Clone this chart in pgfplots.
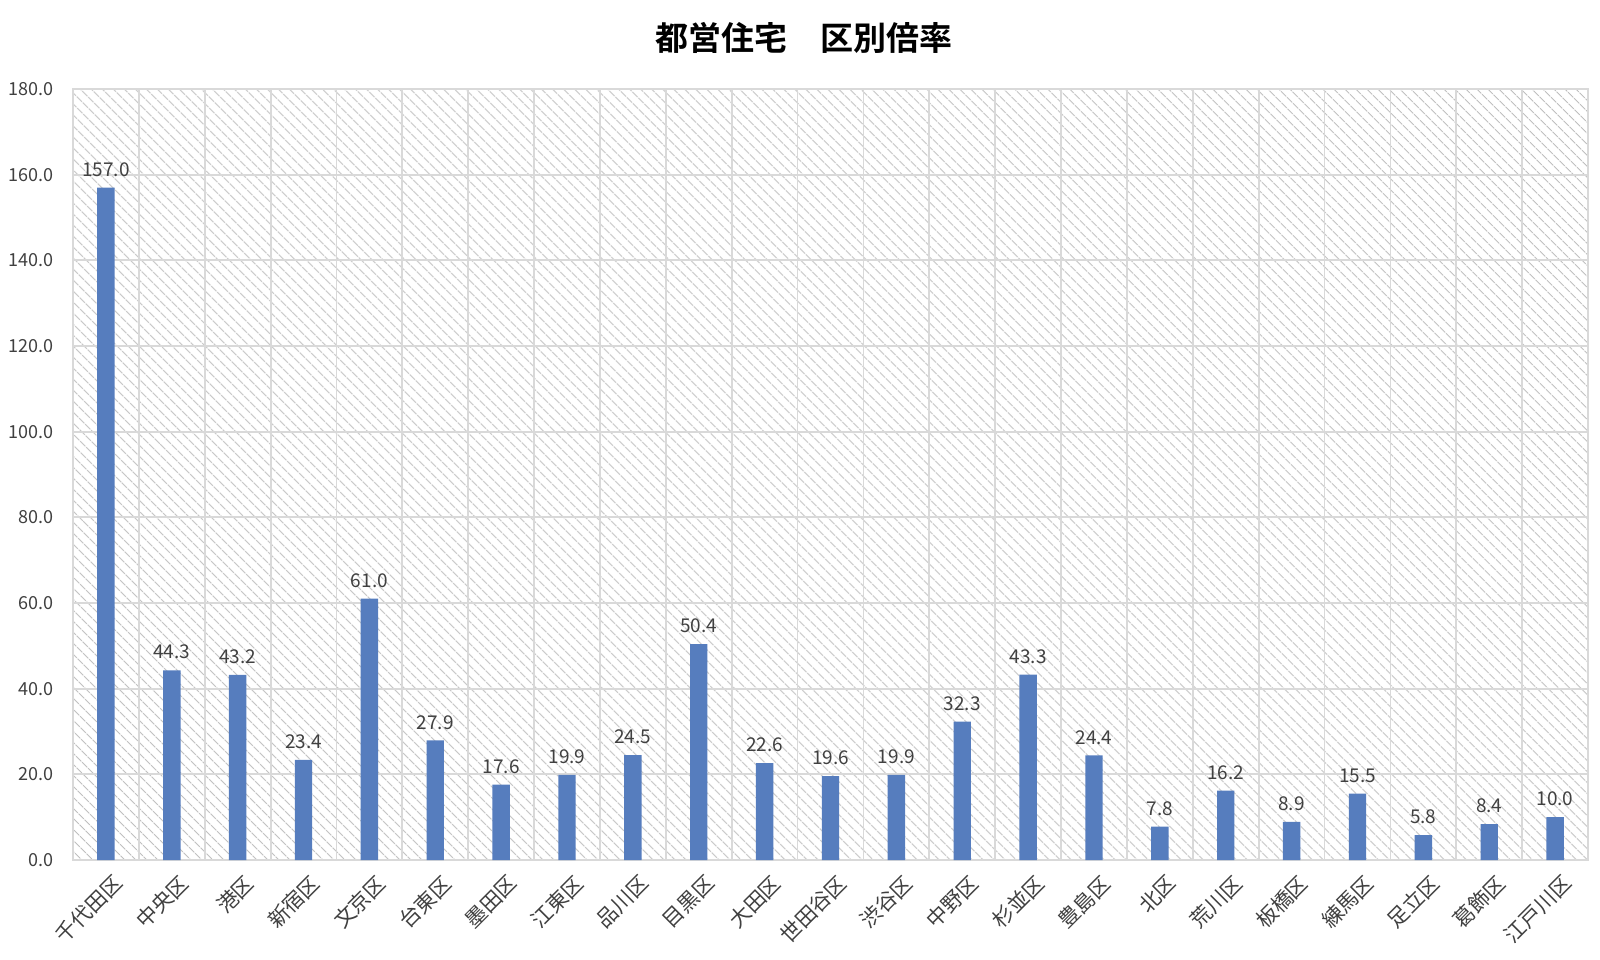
\documentclass[border=0pt]{standalone}
\usepackage{fontspec}
\setmainfont{Noto Sans CJK JP}[BoldFont={Noto Sans CJK JP Bold}]
\usepackage{pgfplots}
\pgfplotsset{compat=1.18}
\usetikzlibrary{patterns.meta}

\definecolor{barblue}{RGB}{86,125,190}
\definecolor{gridgray}{RGB}{217,217,217}
\definecolor{hatchgray}{RGB}{190,190,190}
\definecolor{labelgray}{RGB}{64,64,64}

\begin{document}
\begin{tikzpicture}
\useasboundingbox (-36.5pt,-49.5pt) rectangle (763.5pt,430pt);
\begin{axis}[
    at={(0,0)}, anchor=south west,
    scale only axis,
    width=757.5pt, height=385.5pt,
    ybar, bar width=8.7pt,
    xmin=-0.5, xmax=22.5,
    ymin=0, ymax=180,
    ytick={0,20,...,180},
    xtick={0,1,...,22},
    xticklabels={千代田区,中央区,港区,新宿区,文京区,台東区,墨田区,江東区,品川区,目黒区,大田区,世田谷区,渋谷区,中野区,杉並区,豊島区,北区,荒川区,板橋区,練馬区,足立区,葛飾区,江戸川区},
    minor xtick={-0.5,0.5,...,22.5},
    xminorgrids, ymajorgrids,
    major grid style={gridgray, line width=0.9pt},
    minor grid style={gridgray, line width=0.9pt},
    axis line style={gridgray, line width=0.9pt},
    major tick length=0pt, minor tick length=0pt,
    axis background/.style={pattern={Lines[angle=-45, distance=4pt, line width=0.5pt]}, pattern color=hatchgray},
    xticklabel style={rotate=45, anchor=north east, font=\fontsize{10.5}{12}\selectfont, text=labelgray, xshift=1pt, yshift=-3pt},
    yticklabel style={font=\fontsize{9}{10}\selectfont, text=labelgray, xshift=-6pt},
    /pgf/number format/assume math mode=true,
    yticklabel={\pgfmathprintnumber[fixed, fixed zerofill, precision=1]{\tick}},
    nodes near coords={\pgfmathprintnumber[fixed, fixed zerofill, precision=1]{\pgfplotspointmeta}},
    nodes near coords style={font=\fontsize{9.5}{11}\selectfont, text=labelgray, yshift=2pt},
    title={\bfseries 都営住宅　区別倍率},
    title style={font=\fontsize{16.5}{18}\selectfont, at={(0.5,1)}, anchor=center, yshift=19.5pt, xshift=-13.5pt},
]
\addplot[fill=barblue, draw=none] coordinates {
    (0,157.0) (1,44.3) (2,43.2) (3,23.4) (4,61.0) (5,27.9) (6,17.6) (7,19.9)
    (8,24.5) (9,50.4) (10,22.6) (11,19.6) (12,19.9) (13,32.3) (14,43.3) (15,24.4)
    (16,7.8) (17,16.2) (18,8.9) (19,15.5) (20,5.8) (21,8.4) (22,10.0)
};
\end{axis}
\end{tikzpicture}
\end{document}
